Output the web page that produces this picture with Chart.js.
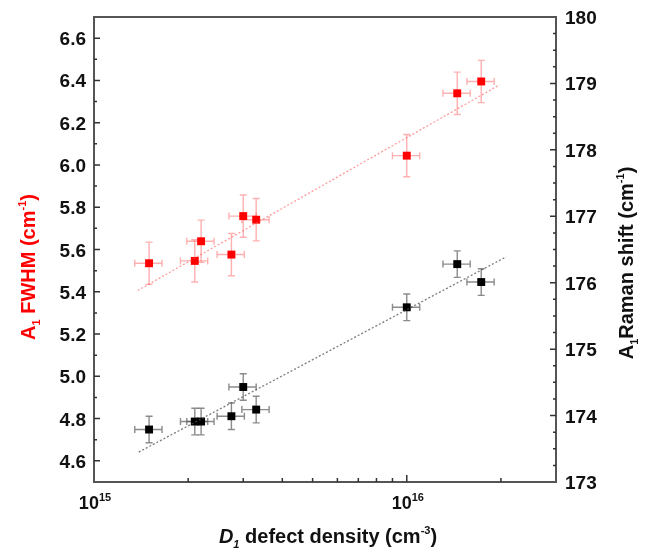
<!DOCTYPE html>
<html><head><meta charset="utf-8">
<script src="https://cdn.jsdelivr.net/npm/chart.js@4/dist/chart.umd.min.js"></script>
<style>html,body{margin:0;padding:0;background:#fff;}#wrap{width:648px;height:550px;}</style>
</head><body><div id="wrap"><canvas id="c" width="648" height="550"></canvas></div>
<script>
// ---- data ----
const densities = [1.5e15, 2.1e15, 2.2e15, 2.75e15, 3.0e15, 3.3e15, 1.0e16, 1.45e16, 1.73e16];
const densityErr = [0.15e15, 0.21e15, 0.22e15, 0.275e15, 0.30e15, 0.33e15, 1.0e15, 1.45e15, 1.73e15];
const fwhm = [5.535, 5.546, 5.639, 5.576, 5.758, 5.741, 6.044, 6.339, 6.395];
const fwhmErr = [0.1, 0.1, 0.1, 0.1, 0.1, 0.1, 0.1, 0.1, 0.1];
const ramanShift = [173.79, 173.91, 173.91, 173.99, 174.43, 174.09, 175.63, 176.28, 176.01];
const ramanShiftErr = [0.2, 0.2, 0.2, 0.2, 0.2, 0.2, 0.2, 0.2, 0.2];
const fwhmFitX = [1.38e15, 1.98e16];
const fwhmFitY = [5.406, 6.379];
const shiftFitX = [1.39e15, 2.08e16];
const shiftFitY = [173.45, 176.39];
const leftTickLabels = ['4.6', '4.8', '5.0', '5.2', '5.4', '5.6', '5.8', '6.0', '6.2', '6.4', '6.6'];
const rightTickLabels = ['173', '174', '175', '176', '177', '178', '179', '180'];
const xTickValues = [1e15, 1e16];
const xTickBase = ['10', '10'];
const xTickExp = ['15', '16'];

const FAM = '"Liberation Sans", Arial, sans-serif';
const RED = '#ff0000', RED_LIGHT = 'rgba(255,80,80,0.45)';
const GREY_ERR = 'rgba(90,90,90,0.7)';

function pts(xs, ys) { return xs.map((x, i) => ({ x: x, y: ys[i] })); }

function drawRich(ctx, segs, x, y, align) {
  let w = 0;
  segs.forEach(s => { ctx.font = s.f; w += ctx.measureText(s.t).width; });
  let cx = align === 'center' ? x - w / 2 : (align === 'right' ? x - w : x);
  ctx.textAlign = 'left'; ctx.textBaseline = 'alphabetic';
  segs.forEach(s => {
    ctx.font = s.f;
    ctx.fillStyle = s.c || ctx.fillStyle;
    ctx.fillText(s.t, cx, y + (s.dy || 0));
    cx += ctx.measureText(s.t).width;
  });
}

const errorBars = {
  id: 'errorBars',
  beforeDatasetsDraw(chart) {
    const ctx = chart.ctx, xs = chart.scales.x;
    const series = [
      { sc: chart.scales.y, v: fwhm, e: fwhmErr, c: RED_LIGHT },
      { sc: chart.scales.y2, v: ramanShift, e: ramanShiftErr, c: GREY_ERR }
    ];
    ctx.save();
    ctx.lineWidth = 1.4;
    series.forEach(s => {
      ctx.strokeStyle = s.c;
      densities.forEach((d, i) => {
        const px = xs.getPixelForValue(d), py = s.sc.getPixelForValue(s.v[i]);
        const y1 = s.sc.getPixelForValue(s.v[i] - s.e[i]), y2 = s.sc.getPixelForValue(s.v[i] + s.e[i]);
        const x1 = xs.getPixelForValue(d - densityErr[i]), x2 = xs.getPixelForValue(d + densityErr[i]);
        const cap = 3.5;
        ctx.beginPath();
        ctx.moveTo(px, y1); ctx.lineTo(px, y2);
        ctx.moveTo(px - cap, y1); ctx.lineTo(px + cap, y1);
        ctx.moveTo(px - cap, y2); ctx.lineTo(px + cap, y2);
        ctx.moveTo(x1, py); ctx.lineTo(x2, py);
        ctx.moveTo(x1, py - cap); ctx.lineTo(x1, py + cap);
        ctx.moveTo(x2, py - cap); ctx.lineTo(x2, py + cap);
        ctx.stroke();
      });
    });
    ctx.restore();
  }
};

const frame = {
  id: 'frame',
  afterDraw(chart) {
    const ctx = chart.ctx, a = chart.chartArea;
    const xs = chart.scales.x, ys = chart.scales.y, y2s = chart.scales.y2;
    ctx.save();
    ctx.strokeStyle = '#555'; ctx.lineWidth = 2;
    ctx.strokeRect(a.left, a.top, a.right - a.left, a.bottom - a.top);
    ctx.strokeStyle = '#333'; ctx.lineWidth = 1.5;
    ctx.beginPath();
    // left ticks (inward)
    for (let i = 46; i <= 66; i++) {
      const y = ys.getPixelForValue(i / 10);
      const len = i % 2 === 0 ? 6 : 3;
      ctx.moveTo(a.left, y); ctx.lineTo(a.left + len, y);
    }
    // right ticks
    for (let i = 1; i < 28; i++) {
      const y = y2s.getPixelForValue(173 + i * 0.25);
      const len = i % 4 === 0 ? 6 : 3;
      ctx.moveTo(a.right, y); ctx.lineTo(a.right - len, y);
    }
    // bottom log ticks
    for (let d = 15; d <= 16; d++) {
      for (let m = 1; m <= 9; m++) {
        const v = m * Math.pow(10, d);
        if (v <= 1e15 || v >= 3e16) continue;
        const x = xs.getPixelForValue(v);
        const len = m === 1 ? 7 : 4;
        ctx.moveTo(x, a.bottom); ctx.lineTo(x, a.bottom - len);
      }
    }
    ctx.stroke();

    // tick labels
    ctx.fillStyle = '#111';
    const tf = 'bold 19px ' + FAM;
    leftTickLabels.forEach(l => {
      const y = ys.getPixelForValue(parseFloat(l));
      drawRich(ctx, [{ t: l, f: tf }], 86, y + 7, 'right');
    });
    rightTickLabels.forEach(l => {
      const y = y2s.getPixelForValue(parseFloat(l));
      drawRich(ctx, [{ t: l, f: tf }], 565, y + 7, 'left');
    });
    xTickValues.forEach((v, i) => {
      const x = xs.getPixelForValue(v);
      drawRich(ctx, [{ t: xTickBase[i], f: 'bold 18px ' + FAM }, { t: xTickExp[i], f: 'bold 11px ' + FAM, dy: -8 }], x + 1, 509, 'center');
    });

    // axis titles
    const bf = 'bold 20px ' + FAM, sf = 'bold 11px ' + FAM;
    drawRich(ctx, [
      { t: 'D', f: 'italic bold 20px ' + FAM, c: '#111' },
      { t: '1', f: 'italic bold 11px ' + FAM, dy: 5 },
      { t: ' defect density (cm', f: bf },
      { t: '-3', f: sf, dy: -9 },
      { t: ')', f: bf }
    ], 328, 543, 'center');

    ctx.save();
    ctx.translate(35, 267); ctx.rotate(-Math.PI / 2);
    drawRich(ctx, [
      { t: 'A', f: bf, c: RED },
      { t: '1', f: sf, dy: 5 },
      { t: ' FWHM (cm', f: bf },
      { t: '-1', f: sf, dy: -9 },
      { t: ')', f: bf }
    ], 0, 0, 'center');
    ctx.restore();

    ctx.save();
    ctx.translate(633, 263); ctx.rotate(-Math.PI / 2);
    drawRich(ctx, [
      { t: 'A', f: bf, c: '#111' },
      { t: '1', f: sf, dy: 5 },
      { t: 'Raman shift (cm', f: bf },
      { t: '-1', f: sf, dy: -9 },
      { t: ')', f: bf }
    ], 0, 0, 'center');
    ctx.restore();
    ctx.restore();
  }
};

new Chart(document.getElementById('c'), {
  type: 'scatter',
  data: {
    datasets: [
      { type: 'line', data: pts(fwhmFitX, fwhmFitY), yAxisID: 'y', borderColor: 'rgba(255,90,90,0.6)', borderWidth: 1.3, borderDash: [2, 2], pointRadius: 0, fill: false },
      { type: 'line', data: pts(shiftFitX, shiftFitY), yAxisID: 'y2', borderColor: 'rgba(80,80,80,0.75)', borderWidth: 1.3, borderDash: [2, 2], pointRadius: 0, fill: false },
      { data: pts(densities, fwhm), yAxisID: 'y', pointStyle: 'rect', pointRadius: 5.6, backgroundColor: RED, borderColor: RED, borderWidth: 0 },
      { data: pts(densities, ramanShift), yAxisID: 'y2', pointStyle: 'rect', pointRadius: 5.6, backgroundColor: '#000', borderColor: '#000', borderWidth: 0 }
    ]
  },
  options: {
    responsive: false, animation: false, devicePixelRatio: 1,
    layout: { padding: { left: 0, right: 0, top: 17, bottom: 0 } },
    plugins: { legend: { display: false }, tooltip: { enabled: false } },
    scales: {
      x: { type: 'logarithmic', position: 'bottom', min: 1e15, max: 3e16,
           ticks: { display: false }, grid: { display: false }, border: { display: false },
           afterFit: s => { s.height = 68; } },
      y: { type: 'linear', position: 'left', min: 4.5, max: 6.7,
           ticks: { display: false }, grid: { display: false }, border: { display: false },
           afterFit: s => { s.width = 94; } },
      y2: { type: 'linear', position: 'right', min: 173, max: 180,
           ticks: { display: false }, grid: { display: false }, border: { display: false },
           afterFit: s => { s.width = 92; } }
    }
  },
  plugins: [errorBars, frame]
});
</script>
</body></html>
